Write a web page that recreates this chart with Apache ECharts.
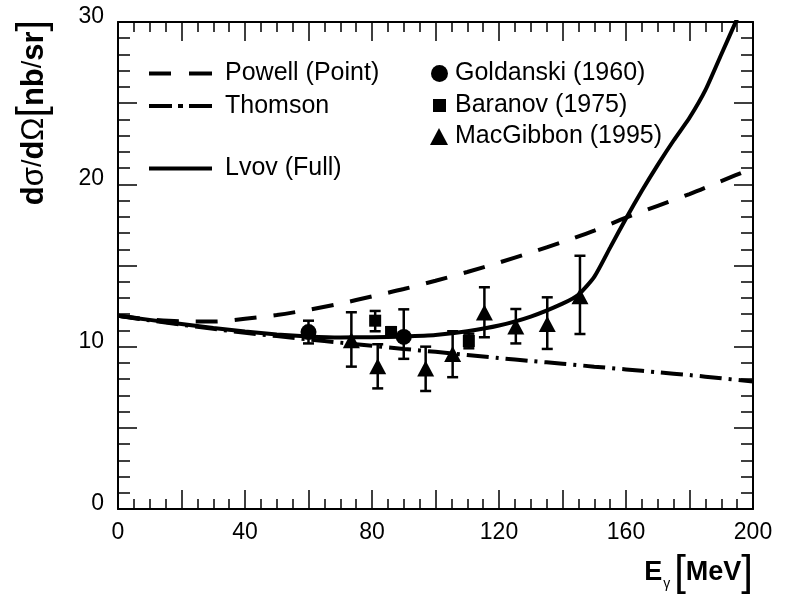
<!DOCTYPE html>
<html>
<head>
<meta charset="utf-8">
<script src="https://cdn.jsdelivr.net/npm/echarts@6/dist/echarts.min.js"></script>
<style>html,body{margin:0;padding:0;background:#fff;}#c{width:798px;height:595px;}</style>
</head>
<body>
<div id="c"></div>
<script>
// Theory curves on a common energy grid (MeV)
const energyGrid   = [0, 10, 20, 30, 40, 50, 60, 70, 80, 90, 100, 110, 120, 130, 140, 150, 160, 170, 180, 190, 200];
const powellValues = [11.9, 11.68, 11.56, 11.55, 11.72, 11.95, 12.27, 12.65, 13.1, 13.55, 14.06, 14.6, 15.18, 15.8, 16.45, 17.15, 17.95, 18.68, 19.4, 20.2, 21.0];
const thomsonValues= [11.9, 11.62, 11.35, 11.1, 10.85, 10.65, 10.45, 10.25, 10.05, 9.86, 9.68, 9.49, 9.3, 9.12, 8.95, 8.77, 8.6, 8.42, 8.25, 8.05, 7.85];
// Lvov (full) curve
const lvovEnergy = [0, 10, 20, 30, 40, 50, 60, 70, 80, 90, 100, 110, 120, 130, 140, 145, 150, 155, 160, 165, 170, 175, 180, 185, 190, 195, 197];
const lvovValues = [11.9, 11.65, 11.4, 11.15, 10.93, 10.75, 10.63, 10.57, 10.58, 10.63, 10.72, 10.95, 11.3, 11.85, 12.65, 13.2, 14.3, 16.1, 17.9, 19.6, 21.2, 22.7, 24.1, 25.8, 28.0, 30.2, 31.1];
// Data sets: energy, value, error-bar low, error-bar high
const goldE  = [60, 90];
const goldV  = [10.9, 10.6];
const goldLo = [10.2, 9.25];
const goldHi = [11.6, 12.3];
const barE  = [81, 86, 110.5];
const barV  = [11.6, 10.9, 10.35];
const barLo = [10.95, 10.6, 9.9];
const barHi = [12.2, 11.2, 10.8];
const macE  = [73.5, 81.8, 96.9, 105.4, 115.4, 125.3, 135.2, 145.5];
const macV  = [10.4, 8.8, 8.65, 9.55, 12.1, 11.25, 11.4, 13.1];
const macLo = [8.77, 7.43, 7.27, 8.12, 10.58, 10.2, 9.86, 10.78];
const macHi = [12.12, 10.15, 10.0, 10.95, 13.66, 12.32, 13.04, 15.6];
// Axis ticks
const xLabelStep = 40;
const yLabelStep = 10;

const FONT = '"Liberation Sans", Arial, Helvetica, sans-serif';
const pairs = (xs, ys) => xs.map((x, i) => [x, ys[i]]);
const errRows = (xs, lo, hi) => xs.map((x, i) => [x, lo[i], hi[i]]);

function errorBar(params, api) {
  const x = api.value(0), lo = api.value(1), hi = api.value(2);
  const pLo = api.coord([x, lo]);
  const pHi = api.coord([x, hi]);
  const cap = 5.5;
  const st = { stroke: '#000', lineWidth: 2.5 };
  return {
    type: 'group',
    children: [
      { type: 'line', shape: { x1: pLo[0], y1: pLo[1], x2: pHi[0], y2: pHi[1] }, style: st },
      { type: 'line', shape: { x1: pLo[0] - cap, y1: pLo[1], x2: pLo[0] + cap, y2: pLo[1] }, style: st },
      { type: 'line', shape: { x1: pHi[0] - cap, y1: pHi[1], x2: pHi[0] + cap, y2: pHi[1] }, style: st }
    ]
  };
}

const tickStyle = { color: '#000', width: 1.5 };
function xAx(pos, labels) {
  return {
    type: 'value', position: pos, min: 0, max: 200, interval: 20,
    axisLine: { show: true, onZero: false, lineStyle: { color: '#000', width: 2 } },
    axisTick: { show: true, inside: true, length: 19, lineStyle: tickStyle },
    minorTick: { show: true, splitNumber: 4, length: 10, lineStyle: tickStyle },
    splitLine: { show: false },
    axisLabel: labels ? {
      show: true, color: '#000', fontFamily: FONT, fontSize: 23, margin: 12,
      formatter: v => (v % xLabelStep === 0 ? String(v) : '')
    } : { show: false }
  };
}
function yAx(pos, labels) {
  return {
    type: 'value', position: pos, min: 0, max: 30, interval: 5,
    axisLine: { show: true, onZero: false, lineStyle: { color: '#000', width: 2 } },
    axisTick: { show: true, inside: true, length: 19, lineStyle: tickStyle },
    minorTick: { show: true, splitNumber: 5, length: 12, lineStyle: tickStyle },
    splitLine: { show: false },
    axisLabel: labels ? {
      show: true, color: '#000', fontFamily: FONT, fontSize: 23, margin: 14,
      verticalAlign: 'bottom', lineHeight: 11,
      formatter: v => (v % yLabelStep === 0 ? String(v) : '')
    } : { show: false }
  };
}

const legendText = { color: '#000', fontFamily: FONT, fontSize: 25, lineHeight: 24 };
const ICON_DASH = 'path://M0,0L22,0L22,4L0,4Z M40,0L63,0L63,4L40,4Z';
const ICON_DASHDOT = 'path://M0,0L23,0L23,4L0,4Z M29,0L34,0L34,4L29,4Z M40,0L63,0L63,4L40,4Z';
const ICON_SOLID = 'path://M0,0L63,0L63,4L0,4Z';

const chart = echarts.init(document.getElementById('c'), null, { renderer: 'canvas' });
chart.setOption({
  backgroundColor: '#fff',
  animation: false,
  grid: { left: 118, right: 45, top: 22, bottom: 86, containLabel: false },
  xAxis: [xAx('bottom', true), xAx('top', false)],
  yAxis: [yAx('left', true), yAx('right', false)],
  legend: [
    {
      data: [{ name: 'Powell (Point)', icon: ICON_DASH }, { name: 'Thomson', icon: ICON_DASHDOT }],
      orient: 'vertical', left: 149, top: 61, padding: 0,
      itemWidth: 63, itemHeight: 4, itemGap: 7.5,
      textStyle: Object.assign({ padding: [0, 0, 0, 8] }, legendText)
    },
    {
      data: [{ name: 'Lvov (Full)', icon: ICON_SOLID }],
      orient: 'vertical', left: 149, top: 156, padding: 0,
      itemWidth: 63, itemHeight: 4,
      textStyle: Object.assign({ padding: [0, 0, 0, 8] }, legendText)
    },
    {
      data: ['Goldanski (1960)'], orient: 'vertical', left: 431, top: 61, padding: 0,
      itemWidth: 17, itemHeight: 17, itemStyle: { opacity: 1 },
      textStyle: Object.assign({ padding: [0, 0, 0, 2] }, legendText)
    },
    {
      data: ['Baranov (1975)'], orient: 'vertical', left: 433, top: 93, padding: 0,
      itemWidth: 13, itemHeight: 13, itemStyle: { opacity: 1 },
      textStyle: Object.assign({ padding: [0, 0, 0, 4] }, legendText)
    },
    {
      data: ['MacGibbon (1995)'], orient: 'vertical', left: 430, top: 124, padding: 0,
      itemWidth: 18, itemHeight: 17, itemStyle: { opacity: 1 },
      textStyle: Object.assign({ padding: [0, 0, 0, 2] }, legendText)
    }
  ],
  graphic: [
    {
      type: 'text', x: 34, y: 20, rotation: Math.PI / 2,
      style: {
        text: '{b|d}{g|σ}{n|/}{b|d}{g|Ω}{br|[}{b|nb}{n|/}{b|sr}{br|]}',
        align: 'right', verticalAlign: 'middle', fill: '#000',
        rich: {
          b: { fontFamily: FONT, fontSize: 31, fontWeight: 'bold', fill: '#000' },
          g: { fontFamily: FONT, fontSize: 31, fontWeight: 'normal', fill: '#000' },
          n: { fontFamily: FONT, fontSize: 27, fontWeight: 'normal', fill: '#000' },
          br: { fontFamily: FONT, fontSize: 41, fontWeight: 'normal', fill: '#000' }
        }
      }
    },
    {
      type: 'text', x: 753, y: 573,
      style: {
        text: '{b|E}{s|γ}{br|[}{b|MeV}{br|]}',
        align: 'right', verticalAlign: 'middle', fill: '#000',
        rich: {
          b: { fontFamily: FONT, fontSize: 27, fontWeight: 'bold', fill: '#000' },
          s: { fontFamily: FONT, fontSize: 14, fontWeight: 'normal', fill: '#000', padding: [22, 4, 0, 1] },
          br: { fontFamily: FONT, fontSize: 42, fontWeight: 'normal', fill: '#000' }
        }
      }
    }
  ],
  series: [
    {
      name: 'Powell (Point)', type: 'line', data: pairs(energyGrid, powellValues),
      smooth: 0.3, symbol: 'none', clip: true,
      lineStyle: { color: '#000', width: 4, type: [22, 17] },
      itemStyle: { color: '#000' }, z: 3
    },
    {
      name: 'Thomson', type: 'line', data: pairs(energyGrid, thomsonValues),
      smooth: 0.3, symbol: 'none', clip: true,
      lineStyle: { color: '#000', width: 4, type: [22, 7, 3, 7] },
      itemStyle: { color: '#000' }, z: 3
    },
    {
      name: 'Lvov (Full)', type: 'line', data: pairs(lvovEnergy, lvovValues),
      smooth: 0.2, symbol: 'none', clip: true,
      lineStyle: { color: '#000', width: 4 },
      itemStyle: { color: '#000' }, z: 3
    },
    { type: 'custom', renderItem: errorBar, data: errRows(goldE, goldLo, goldHi), z: 2, silent: true },
    { type: 'custom', renderItem: errorBar, data: errRows(barE, barLo, barHi), z: 2, silent: true },
    { type: 'custom', renderItem: errorBar, data: errRows(macE, macLo, macHi), z: 2, silent: true },
    {
      name: 'Goldanski (1960)', type: 'scatter', data: pairs(goldE, goldV),
      symbol: 'circle', symbolSize: 16, itemStyle: { color: '#000', opacity: 1 }, z: 4
    },
    {
      name: 'Baranov (1975)', type: 'scatter', data: pairs(barE, barV),
      symbol: 'rect', symbolSize: 12, itemStyle: { color: '#000', opacity: 1 }, z: 4
    },
    {
      name: 'MacGibbon (1995)', type: 'scatter', data: pairs(macE, macV),
      symbol: 'triangle', symbolSize: [17, 16], itemStyle: { color: '#000', opacity: 1 }, z: 4
    }
  ]
});
</script>
</body>
</html>
